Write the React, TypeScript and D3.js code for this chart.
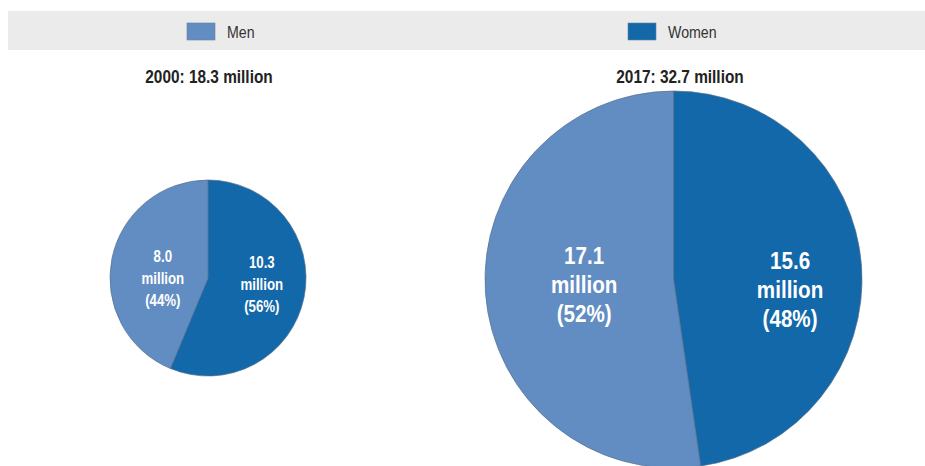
import { useEffect, useRef } from "react";
import * as d3 from "d3";

// values (millions)
const groups = ["Men", "Women"];
const years = ["2000", "2017"];
const totals = [18.3, 32.7];
const menValues = [8.0, 17.1];
const womenValues = [10.3, 15.6];
const menShares = [44, 52];
const womenShares = [56, 48];

const colors = ["#628dc2", "#1368a9"];
const FONT = "'Liberation Sans', Arial, sans-serif";

const App = () => {
  const svgRef = useRef<SVGSVGElement>(null);

  useEffect(() => {
    const width = 925;
    const height = 466;
    const svg = d3.select(svgRef.current).attr("width", width).attr("height", height);
    svg.selectAll("*").remove();

    // condensed text: no narrow face installed, so squeeze it horizontally
    const narrowText = (parent: any, x: number, y: number, sx: number) =>
      parent.append("g").attr("transform", `translate(${x},${y}) scale(${sx},1)`).append("text");

    // legend band
    svg.append("rect").attr("x", 8).attr("y", 11).attr("width", width - 8).attr("height", 39).attr("fill", "#ebebeb");
    const legendX = [187, 628];
    groups.forEach((g, i) => {
      svg.append("rect")
        .attr("x", legendX[i]).attr("y", 23).attr("width", 28).attr("height", 17)
        .attr("fill", colors[i]).attr("stroke", "#6a7f96").attr("stroke-width", 0.6);
      narrowText(svg, legendX[i] + 40, 37.5, 0.86)
        .attr("font-family", FONT).attr("font-size", 16.5).attr("fill", "#333")
        .text(g);
    });

    // pie sizes scale with sqrt of total
    const rScale = d3.scaleSqrt().domain([0, d3.max(totals)!]).range([0, 188.5]);
    const centersX = [208, 673.5];
    const centersY = [278, 279.5];
    const titleShift = [1, 6.5];
    // [men, women] label radius as share of r, middle baseline below centre
    const labelK = [[0.47, 0.56], [0.475, 0.62]];
    const labelDy = [[6, 12], [13.5, 18.5]];
    const fontSizes = [17, 24];
    const lineH = [22, 29.5];
    const labelSx = [0.78, 0.86];

    const pie = d3.pie<number>().sort(null);

    years.forEach((yr, p) => {
      const r = p === 0 ? 98 : rScale(totals[p]);
      const cx = centersX[p];
      const cy = centersY[p];

      narrowText(svg, cx + titleShift[p], 83, 0.88)
        .attr("text-anchor", "middle")
        .attr("font-family", FONT).attr("font-weight", "bold").attr("font-size", 17.5).attr("fill", "#222")
        .text(`${yr}: ${totals[p].toFixed(1)} million`);

      // women first, clockwise from 12 o'clock
      const vals = [womenValues[p], menValues[p]];
      const arcs = pie(vals);
      const arc = d3.arc<d3.PieArcDatum<number>>().innerRadius(0).outerRadius(r);
      const g = svg.append("g").attr("transform", `translate(${cx},${cy})`);
      g.selectAll("path")
        .data(arcs)
        .join("path")
        .attr("d", arc)
        .attr("fill", (_, i) => colors[1 - i])
        .attr("stroke", "#56708c")
        .attr("stroke-width", 0.7);

      const shares = [womenShares[p], menShares[p]];
      arcs.forEach((a, i) => {
        const s = 1 - i; // series index: 0 men, 1 women
        const k = labelK[p][s] * r;
        const [lx] = d3.arc<d3.PieArcDatum<number>>().innerRadius(k).outerRadius(k).centroid(a);
        const lh = lineH[p];
        const lines = [vals[i].toFixed(1), "million", `(${shares[i]}%)`];
        const t = narrowText(g, lx, labelDy[p][s] - lh, labelSx[p])
          .attr("text-anchor", "middle")
          .attr("font-family", FONT).attr("font-weight", "bold").attr("font-size", fontSizes[p]).attr("fill", "#fff");
        lines.forEach((l, j) => {
          t.append("tspan").attr("x", 0).attr("dy", j === 0 ? 0 : lh).text(l);
        });
      });
    });
  }, []);

  return (
    <div style={{ position: "absolute", left: 0, top: 0 }}>
      <svg ref={svgRef} style={{ display: "block" }}></svg>
    </div>
  );
};

export default App;
